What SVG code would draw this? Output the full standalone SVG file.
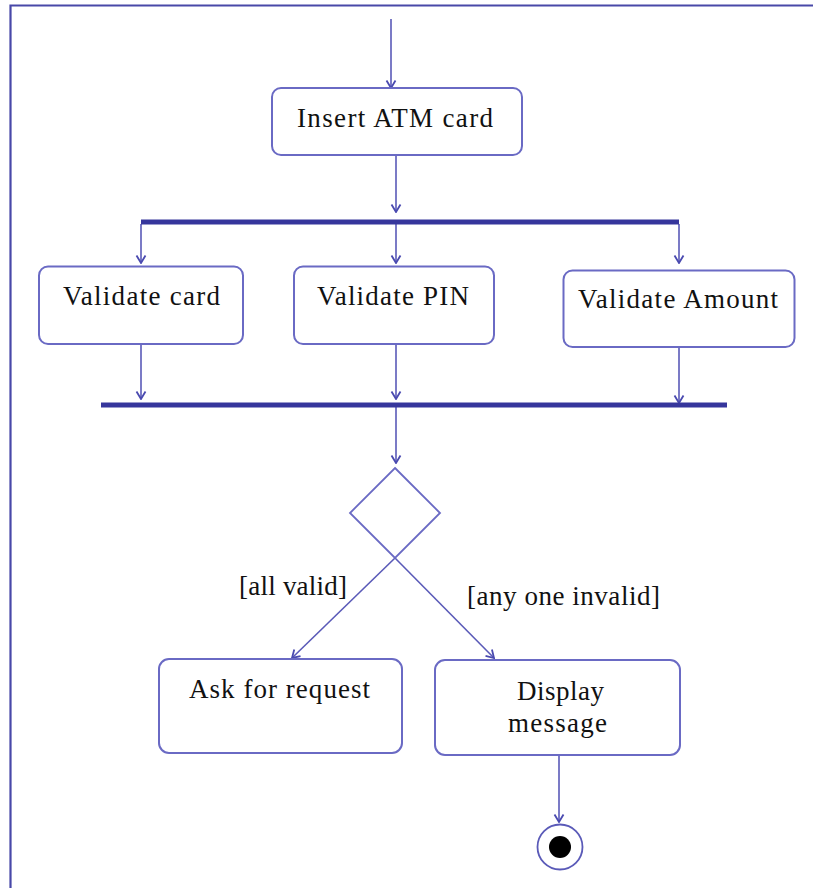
<svg xmlns="http://www.w3.org/2000/svg" width="813" height="888" viewBox="0 0 813 888">
<style>
.frame{fill:none;stroke:#4848a8;stroke-width:2.2}
.box{fill:#fff;stroke:#6a6ac4;stroke-width:2}
.bar{fill:#36369c}
.ln{fill:none;stroke:#5a5ab8;stroke-width:1.6}
.t{font-family:"Liberation Serif","Times New Roman",serif;font-size:27px;fill:#111;text-anchor:start}
.dia{fill:#fff;stroke:#6a6ac4;stroke-width:1.8}
</style>
<defs>
<marker id="arr" markerUnits="userSpaceOnUse" markerWidth="14" markerHeight="14" viewBox="0 0 14 14" refX="13" refY="7" orient="auto">
<path d="M5.5,2.5 L13,7 L5.5,11.5" fill="none" stroke="#4a4ab0" stroke-width="1.8"/>
</marker>
</defs>
<path class="frame" d="M10.5,888 V5.5 H813"/>
<g id="connectors">
<line class="ln" x1="391" y1="19" x2="391" y2="88" marker-end="url(#arr)"/>
<line class="ln" x1="396" y1="155" x2="396" y2="212" marker-end="url(#arr)"/>
<line class="ln" x1="141" y1="224" x2="141" y2="263" marker-end="url(#arr)"/>
<line class="ln" x1="396" y1="224" x2="396" y2="263" marker-end="url(#arr)"/>
<line class="ln" x1="679" y1="224" x2="679" y2="263" marker-end="url(#arr)"/>
<line class="ln" x1="141" y1="344" x2="141" y2="399" marker-end="url(#arr)"/>
<line class="ln" x1="396" y1="344" x2="396" y2="399" marker-end="url(#arr)"/>
<line class="ln" x1="679" y1="347" x2="679" y2="403" marker-end="url(#arr)"/>
<line class="ln" x1="396" y1="407" x2="396" y2="463" marker-end="url(#arr)"/>
<line class="ln" x1="395" y1="558" x2="292" y2="658" marker-end="url(#arr)"/>
<line class="ln" x1="395" y1="558" x2="494" y2="658" marker-end="url(#arr)"/>
<line class="ln" x1="559" y1="755" x2="559" y2="822" marker-end="url(#arr)"/>
</g>
<g id="start-bar-fork"><rect class="bar" x="141" y="219.5" width="538" height="5"/></g>
<g id="join-bar"><rect class="bar" x="101" y="402.5" width="626" height="5"/></g>
<g id="insert-card">
<rect class="box" x="272" y="88" width="250" height="67" rx="9"/>
<text class="t" x="297" y="127" textLength="196" lengthAdjust="spacing">Insert ATM card</text>
</g>
<g id="validate-card">
<rect class="box" x="39" y="266.5" width="204" height="77.5" rx="9"/>
<text class="t" x="63" y="304.5" textLength="157" lengthAdjust="spacing">Validate card</text>
</g>
<g id="validate-pin">
<rect class="box" x="294" y="266.5" width="200" height="77.5" rx="9"/>
<text class="t" x="317" y="304.5" textLength="152" lengthAdjust="spacing">Validate PIN</text>
</g>
<g id="validate-amount">
<rect class="box" x="563.5" y="270.5" width="231" height="76.5" rx="9"/>
<text class="t" x="578" y="308" textLength="200" lengthAdjust="spacing">Validate Amount</text>
</g>
<g id="decision">
<polygon class="dia" points="395,468 440,513 395,558 350,513"/>
</g>
<g id="guards">
<text class="t" x="239" y="595" textLength="108" lengthAdjust="spacing">[all valid]</text>
<text class="t" x="467" y="605" textLength="193" lengthAdjust="spacing">[any one invalid]</text>
</g>
<g id="ask-request">
<rect class="box" x="159" y="659" width="243" height="94" rx="10"/>
<text class="t" x="189" y="698" textLength="181" lengthAdjust="spacing">Ask for request</text>
</g>
<g id="display-message">
<rect class="box" x="435" y="660" width="245" height="95" rx="10"/>
<text class="t" x="517" y="700" textLength="87" lengthAdjust="spacing">Display</text>
<text class="t" x="508" y="732" textLength="99" lengthAdjust="spacing">message</text>
</g>
<g id="final-node">
<circle cx="560" cy="847" r="22.5" fill="#fff" stroke="#5a5ab8" stroke-width="1.8"/>
<circle cx="560" cy="847" r="11" fill="#000"/>
</g>
</svg>
